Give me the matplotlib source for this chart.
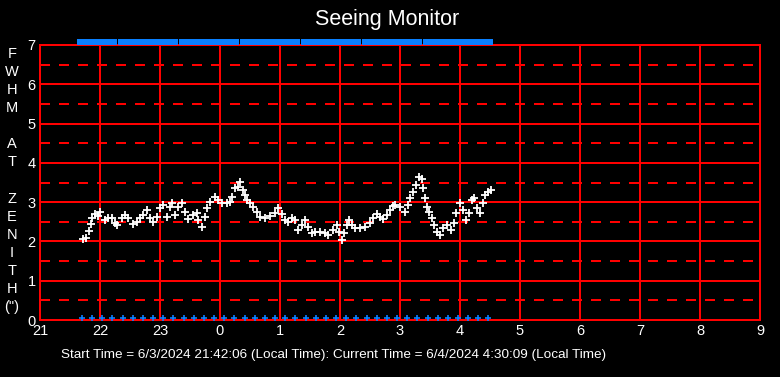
import matplotlib
matplotlib.use("Agg")
import matplotlib.pyplot as plt
from matplotlib.path import Path

# minutes after 21:00 (local time) and measured FWHM at zenith (arcsec)
minutes = [43, 46, 49, 51, 52, 55, 58, 60, 65, 68, 72, 75, 77, 82, 85, 88, 93, 97,
           100, 103, 107, 110, 113, 117, 120, 123, 127, 130, 132, 135, 138, 142, 145,
           148, 153, 157, 158, 162, 165, 167, 170, 175, 178, 182, 187, 190, 192, 195,
           198, 200, 203, 205, 207, 210, 213, 217, 220, 225, 230, 235, 238, 242, 245,
           248, 252, 255, 258, 262, 265, 268, 272, 275, 280, 285, 288, 293, 297, 299,
           302, 304, 307, 309, 312, 315, 320, 325, 330, 333, 337, 340, 343, 347, 350,
           353, 355, 360, 365, 368, 370, 373, 376, 379, 382, 383, 385, 387, 389, 392,
           394, 397, 400, 403, 407, 411, 414, 416, 420, 423, 426, 429, 432, 434, 437,
           440, 443, 445, 448, 451]
fwhm = [2.05, 2.08, 2.26, 2.44, 2.6, 2.7, 2.65, 2.75, 2.54, 2.6, 2.6, 2.47, 2.42, 2.6,
        2.67, 2.6, 2.44, 2.5, 2.6, 2.67, 2.8, 2.6, 2.5, 2.62, 2.85, 2.93, 2.62, 2.88,
        2.98, 2.67, 2.88, 2.98, 2.75, 2.57, 2.67, 2.72, 2.54, 2.37, 2.62, 2.85, 3.0,
        3.13, 3.05, 2.98, 2.98, 3.0, 3.13, 3.36, 3.38, 3.51, 3.31, 3.18, 3.05, 2.98,
        2.88, 2.75, 2.62, 2.6, 2.65, 2.72, 2.85, 2.7, 2.54, 2.5, 2.6, 2.54, 2.29, 2.42,
        2.54, 2.37, 2.21, 2.24, 2.24, 2.21, 2.16, 2.29, 2.42, 2.24, 2.04, 2.21, 2.42,
        2.54, 2.42, 2.34, 2.34, 2.37, 2.47, 2.6, 2.7, 2.62, 2.57, 2.67, 2.8, 2.9, 2.93,
        2.88, 2.75, 2.93, 3.1, 3.26, 3.43, 3.64, 3.59, 3.36, 3.1, 2.88, 2.75, 2.6, 2.42,
        2.24, 2.16, 2.34, 2.42, 2.29, 2.47, 2.72, 2.98, 2.8, 2.54, 2.72, 3.05, 3.1, 2.85,
        2.72, 2.98, 3.18, 3.26, 3.31]

# status markers (every ~10 min)
status_minutes = [42, 52, 62, 72, 83, 93, 103, 113, 123, 133, 144, 154, 164, 174, 184,
                  194, 205, 215, 225, 235, 245, 255, 266, 276, 286, 296, 306, 316, 327,
                  337, 347, 357, 367, 377, 388, 398, 408, 418, 428, 438, 448]

hour_ticks = [21, 22, 23, 24, 25, 26, 27, 28, 29, 30, 31, 32, 33]
hour_labels = ["21", "22", "23", "0", "1", "2", "3", "4", "5", "6", "7", "8", "9"]

plt.rcParams["font.family"] = ["Liberation Sans", "DejaVu Sans"]

t = [21 + m / 60 for m in minutes]
ts = [21 + m / 60 for m in status_minutes]

fig = plt.figure(figsize=(7.8, 3.77), dpi=100, facecolor="black")
ax = fig.add_axes([40 / 780, 57 / 377, 720 / 780, 275 / 377], facecolor="black")

red = "#ff0000"
blue = "#0a80ff"
lw = 1.1

# grid
for h in hour_ticks:
    ax.axvline(h, color=red, lw=lw, zorder=1, antialiased=False)
for y in range(8):
    ax.axhline(y, color=red, lw=lw, zorder=1, antialiased=False)
for y in [0.5, 1.5, 2.5, 3.5, 4.5, 5.5, 6.5]:
    ax.axhline(y, color=red, lw=lw, ls=(0, (6.5, 6.5)), zorder=1, antialiased=False)

# data
ax.plot(t, fwhm, ls="none", marker="+", color="white", ms=6.3, mew=1.3, zorder=3)

# status rows
rect = Path([(-1.0, -0.55), (1.0, -0.55), (1.0, 0.55), (-1.0, 0.55), (-1.0, -0.55)])
ax.plot(ts, [7.065] * len(ts), ls="none", marker=rect, color=blue, ms=6.6,
        mew=0, clip_on=False, zorder=4)
ax.plot(ts, [0.05] * len(ts), ls="none", marker="+", color=blue, ms=4.5,
        mew=1.2, zorder=4)

ax.set_xlim(21, 33)
ax.set_ylim(0, 7)
ax.set_xticks(hour_ticks)
ax.set_xticklabels(hour_labels)
ax.set_yticks(range(8))
ax.tick_params(colors="white", length=0, labelsize=10.5, pad=3)
for s in ax.spines.values():
    s.set_color(red)
    s.set_linewidth(lw)
    s.set_antialiased(False)

fig.text(387 / 780, 1 - 20 / 377, "Seeing Monitor", color="white", fontsize=15.5,
         ha="center", va="center")

ylab = ["F", "W", "H", "M", "", "A", "T", "", "Z", "E", "N", "I", "T", "H", '(")']
fig.text(12 / 780, 1 - 47 / 377, "\n".join(ylab), color="white", fontsize=10.5,
         ha="center", va="top", linespacing=1.37)

fig.text(334 / 780, 1 - 355 / 377,
         "Start Time = 6/3/2024 21:42:06 (Local Time): Current Time = 6/4/2024 4:30:09 (Local Time)",
         color="white", fontsize=9.7, ha="center", va="center")

fig.savefig("out.png", dpi=100, facecolor="black")
